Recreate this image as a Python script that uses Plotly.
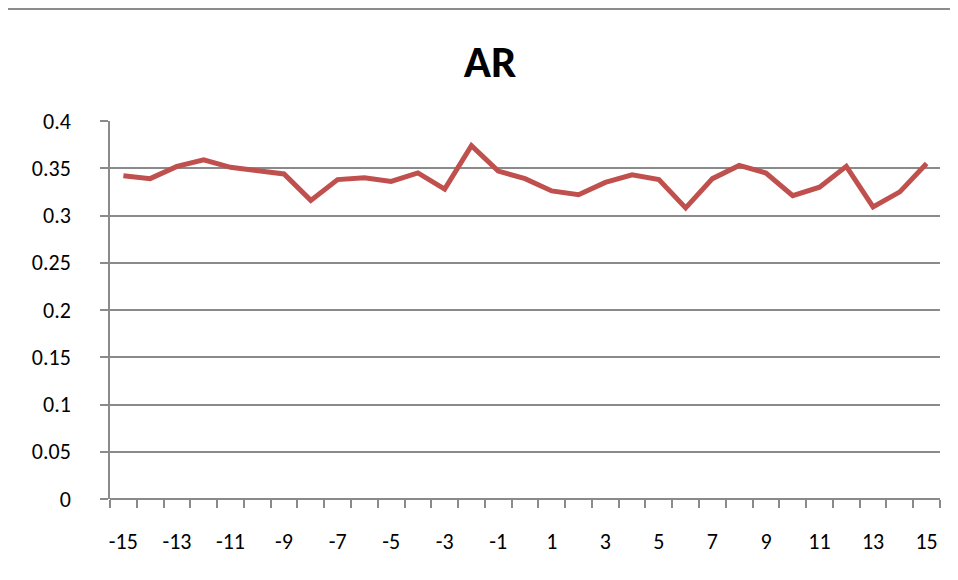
import plotly.graph_objects as go

lags = list(range(-15, 16))
ar_values = [0.342, 0.339, 0.352, 0.359, 0.351, 0.348, 0.344, 0.316, 0.338, 0.340,
             0.336, 0.345, 0.328, 0.374, 0.347, 0.339, 0.326, 0.322, 0.335, 0.343,
             0.338, 0.308, 0.339, 0.353, 0.345, 0.321, 0.330, 0.352, 0.309, 0.325, 0.355]
x_tick_labels = [str(v) for v in range(-15, 16, 2)]
y_tick_vals = [0, 0.05, 0.1, 0.15, 0.2, 0.25, 0.3, 0.35, 0.4]
y_tick_text = ["0", "0.05", "0.1", "0.15", "0.2", "0.25", "0.3", "0.35", "0.4"]

OFF = 8  # page body offset
W, H = 958, 580
L, R, T, B = 110 - OFF, 18 + OFF, 121 - OFF, 81 + OFF
pw, ph = W - L - R, H - T - B

font_fam = "Carlito, Calibri, Liberation Sans, Arial, sans-serif"
grid_col = "#8a8a8a"

fig = go.Figure()
fig.add_trace(go.Scatter(x=lags, y=ar_values, mode="lines",
                         line=dict(color="#c0504d", width=5),
                         hoverinfo="x+y", showlegend=False))

def px_x(p):
    return (p - OFF - L) / pw

def px_y(p):
    return (H - B - (p - OFF)) / ph

fig.add_shape(type="rect", xref="paper", yref="paper",
              x0=px_x(6), x1=px_x(975), y0=px_y(9), y1=px_y(600),
              fillcolor="white", line=dict(color="#8c8c8c", width=2), layer="below")

fig.update_layout(
    width=W, height=H,
    margin=dict(l=L, r=R, t=T, b=B),
    paper_bgcolor="#f4efd6",
    plot_bgcolor="rgba(0,0,0,0)",
    title=dict(text="<b>AR</b>", x=(490 - OFF) / W, xanchor="center",
               y=1 - (61 - OFF) / H, yanchor="middle",
               font=dict(family=font_fam, size=45, color="black")),
    font=dict(family=font_fam, size=22, color="black"),
    xaxis=dict(
        range=[-15.5, 15.5],
        tickmode="array",
        tickvals=list(range(-15, 16, 2)),
        ticktext=x_tick_labels,
        ticks="", showgrid=False, zeroline=False,
        showline=False,
        ticklabelstandoff=27,
        minor=dict(tickmode="linear", tick0=-15.5, dtick=1, ticks="outside",
                   ticklen=8, tickcolor=grid_col, tickwidth=1.5, showgrid=False),
        fixedrange=True,
    ),
    yaxis=dict(
        range=[0, 0.4],
        tickmode="array",
        tickvals=y_tick_vals,
        ticktext=y_tick_text,
        showgrid=True, gridcolor=grid_col, gridwidth=1.5,
        zeroline=True, zerolinecolor=grid_col, zerolinewidth=1.5,
        showline=True, linecolor=grid_col, linewidth=1.5,
        ticks="outside", ticklen=8, tickcolor=grid_col, tickwidth=1.5,
        ticklabelstandoff=25,
        fixedrange=True,
    ),
)

fig.write_html("out.html")
